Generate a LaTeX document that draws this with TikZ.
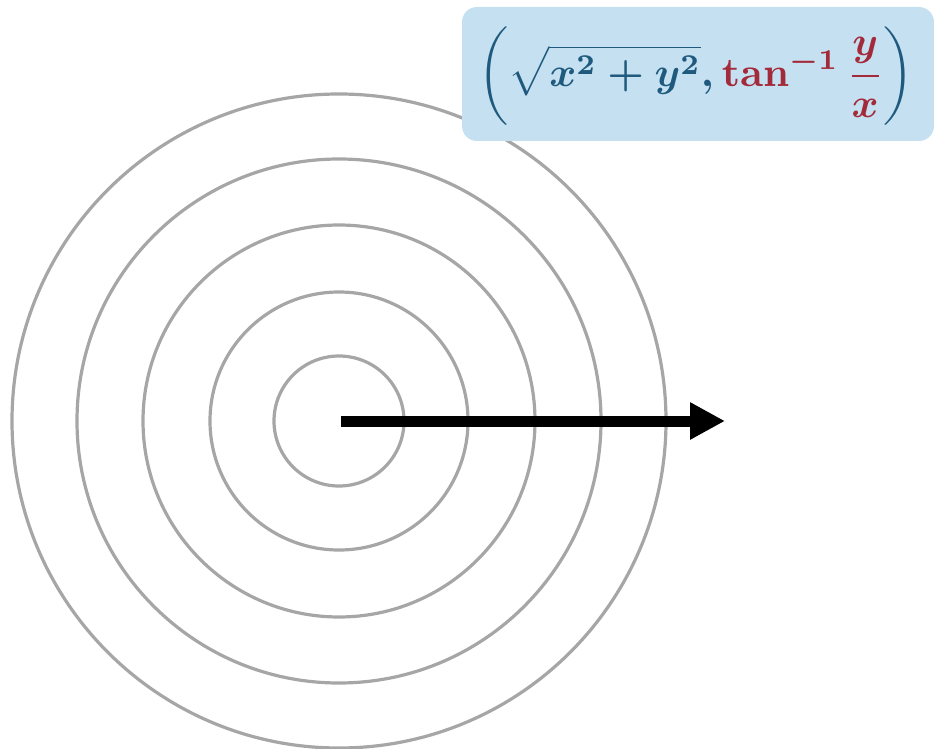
\documentclass[tikz,border=0pt]{standalone}
\usetikzlibrary{arrows.meta, positioning}
\definecolor{ringgray}{HTML}{A6A6A6}
\definecolor{boxblue}{HTML}{C5E1F1}
\definecolor{eqblue}{HTML}{1F5A7E}
\definecolor{eqred}{HTML}{A32A3A}

\begin{document}
\begin{tikzpicture}[x=1pt, y=-1pt, ring/.style={draw=ringgray, line width=3.2pt}, eqbox/.style={rectangle, rounded corners=15pt, fill=boxblue, minimum width=472pt, minimum height=134pt, inner sep=0pt}]
  \useasboundingbox (0,0) rectangle (934,749);
  \coordinate (o) at (339,421);
  \foreach \r in {65,129,196,262,327}
    \draw[ring] (o) circle[radius=\r];

  \node[eqbox](polar) at (698,74){};
  \node(eq) at (696,76){\scalebox{4.1}{\boldmath$\displaystyle\color{eqblue}\left(\sqrt{x^2+y^2},\color{eqred}\tan^{-1}\frac{y}{x}\color{eqblue}\right)$}};

  \coordinate (tip) at (725,421);
  \draw[-{Triangle[length=35pt,width=35pt]}, line width=11pt, black] ([xshift=2pt]o)--(tip);
\end{tikzpicture}
\end{document}
